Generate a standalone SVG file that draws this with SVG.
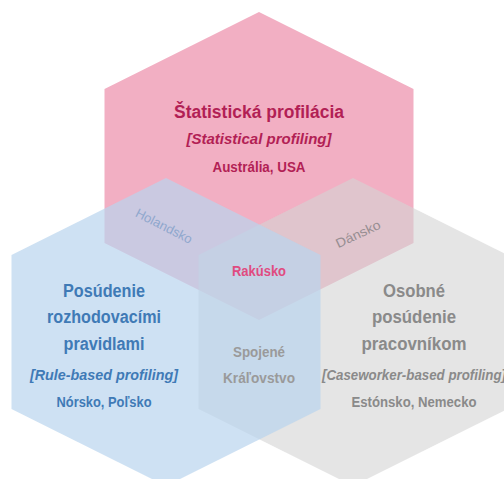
<svg xmlns="http://www.w3.org/2000/svg" width="504" height="479" viewBox="0 0 504 479">
  <style>
    text { font-family: "Liberation Sans", Arial, sans-serif; text-anchor: middle; }
    .title { font-size: 18px; font-weight: bold; }
    .en { font-size: 15px; font-weight: bold; font-style: italic; }
    .land { font-size: 14px; font-weight: bold; }
    .edge { font-size: 13px; }
    .pink-t { fill: #B21F55; }
    .blue-t { fill: #3F7AB6; }
    .gray-t { fill: #8A8A8A; }
  </style>
  <rect width="504" height="479" fill="#FFFFFF"/>

  <!-- Statistical profiling -->
  <g id="statistical">
    <polygon points="259,12 413.5,89 413.5,243 259,320 104.5,243 104.5,89" fill="#F2AFC3"/>
  </g>

  <!-- Caseworker-based profiling -->
  <g id="caseworker">
    <polygon points="353,178 507.5,255 507.5,409 353,486 198.5,409 198.5,255" fill="#D3D3D3" fill-opacity="0.6"/>
  </g>

  <!-- Rule-based profiling -->
  <g id="rulebased">
    <polygon points="166,178 320.5,255 320.5,409 166,486 11.5,409 11.5,255" fill="#B9D4EE" fill-opacity="0.7"/>
  </g>

  <g id="statistical-labels">
    <text class="title pink-t" x="259" y="118" textLength="170" lengthAdjust="spacingAndGlyphs">Štatistická profilácia</text>
    <text class="en pink-t" x="259" y="144" textLength="145" lengthAdjust="spacingAndGlyphs">[Statistical profiling]</text>
    <text class="land pink-t" x="259" y="172" textLength="93" lengthAdjust="spacingAndGlyphs">Austrália, USA</text>
  </g>

  <g id="rulebased-labels">
    <text class="title blue-t" x="104" y="297" textLength="82" lengthAdjust="spacingAndGlyphs">Posúdenie</text>
    <text class="title blue-t" x="104" y="323" textLength="114" lengthAdjust="spacingAndGlyphs">rozhodovacími</text>
    <text class="title blue-t" x="104" y="350" textLength="81" lengthAdjust="spacingAndGlyphs">pravidlami</text>
    <text class="en blue-t" x="104" y="380" textLength="148" lengthAdjust="spacingAndGlyphs">[Rule-based profiling]</text>
    <text class="land blue-t" x="104" y="407" textLength="95" lengthAdjust="spacingAndGlyphs">Nórsko, Poľsko</text>
  </g>

  <g id="caseworker-labels">
    <text class="title gray-t" x="414" y="297" textLength="62" lengthAdjust="spacingAndGlyphs">Osobné</text>
    <text class="title gray-t" x="414" y="323" textLength="84" lengthAdjust="spacingAndGlyphs">posúdenie</text>
    <text class="title gray-t" x="414" y="350" textLength="105" lengthAdjust="spacingAndGlyphs">pracovníkom</text>
    <text class="en gray-t" x="414" y="380" textLength="184" lengthAdjust="spacingAndGlyphs">[Caseworker-based profiling]</text>
    <text class="land gray-t" x="414" y="407" textLength="125" lengthAdjust="spacingAndGlyphs">Estónsko, Nemecko</text>
  </g>

  <!-- overlap labels -->
  <g id="overlaps">
    <text class="edge" fill="#8FA7CD" transform="translate(162,230) rotate(27)" textLength="62" lengthAdjust="spacingAndGlyphs">Holandsko</text>
    <text class="edge" fill="#978E92" transform="translate(360,238) rotate(-25)" textLength="48" lengthAdjust="spacingAndGlyphs">Dánsko</text>
    <text class="land" fill="#E04B80" x="259" y="276" textLength="54" lengthAdjust="spacingAndGlyphs">Rakúsko</text>
    <text class="land" fill="#9A9A9A" x="259" y="357" textLength="52" lengthAdjust="spacingAndGlyphs">Spojené</text>
    <text class="land" fill="#9A9A9A" x="259" y="383" textLength="72" lengthAdjust="spacingAndGlyphs">Kráľovstvo</text>
  </g>
</svg>
